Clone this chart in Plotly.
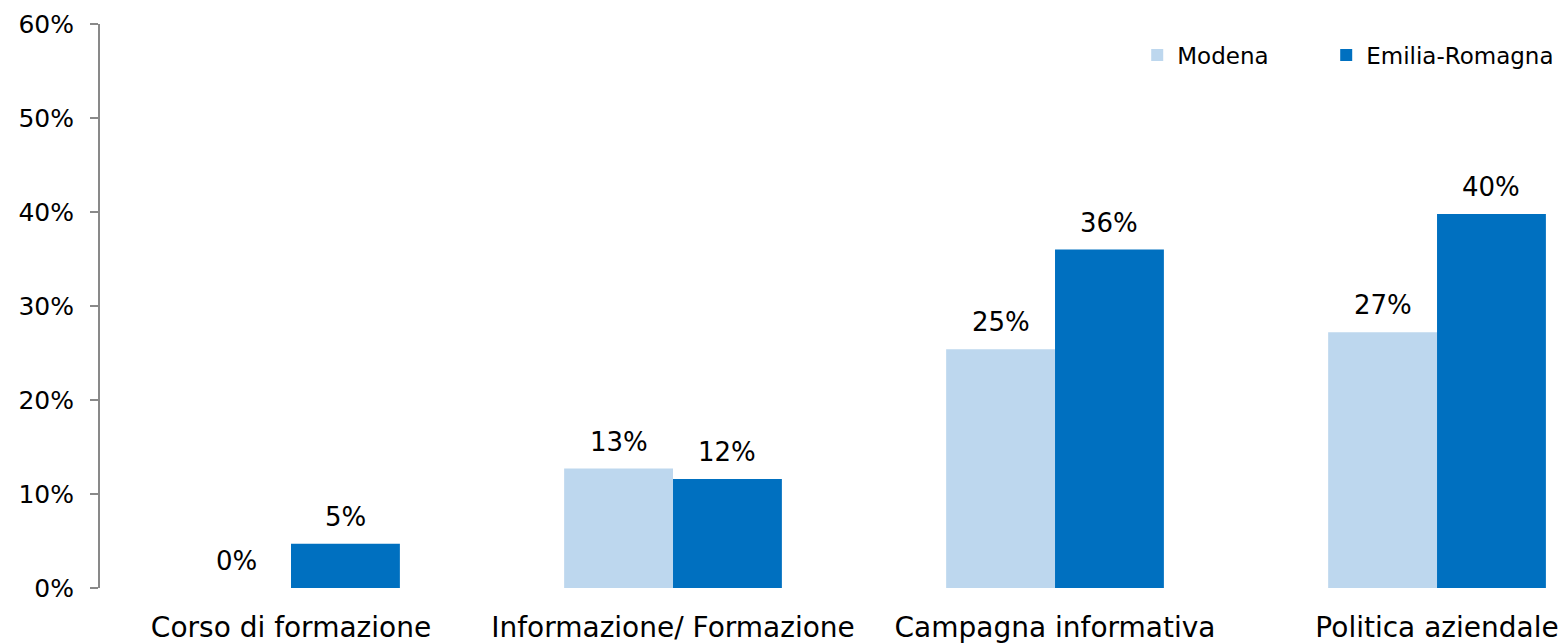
import plotly.graph_objects as go

categories = ["Corso di formazione", "Informazione/ Formazione", "Campagna informativa", "Politica aziendale"]
modena = [0.0, 0.127, 0.254, 0.272]
emilia_romagna = [0.047, 0.116, 0.36, 0.398]
y_ticks = [0, 0.1, 0.2, 0.3, 0.4, 0.5, 0.6]

FONT = "'DejaVu Sans', sans-serif"
BARGAP = 0.43
series = [("Modena", modena, "#BDD7EE", "legend"),
          ("Emilia-Romagna", emilia_romagna, "#0070C0", "legend2")]

fig = go.Figure()
for name, vals, color, leg in series:
    fig.add_trace(go.Bar(
        x=categories, y=vals, name=name, legend=leg,
        marker=dict(color=color, line=dict(width=0)),
    ))

# data labels placed above each bar
bar_w = (1 - BARGAP) / len(series)
for k, (name, vals, color, leg) in enumerate(series):
    off = (k - (len(series) - 1) / 2) * bar_w
    for i, v in enumerate(vals):
        fig.add_annotation(
            x=i + off, y=v, text=f"{round(v * 100):.0f}%", showarrow=False,
            xanchor="center", yanchor="bottom", yshift=10,
            font=dict(size=26, family=FONT, color="#000000"),
        )

fig.update_layout(
    width=1565, height=643,
    margin=dict(l=100, r=0, t=24, b=55, autoexpand=False),
    paper_bgcolor="white", plot_bgcolor="white",
    barmode="group", bargap=BARGAP, bargroupgap=0,
    font=dict(family=FONT, size=25, color="#000000"),
    showlegend=True,
    legend=dict(orientation="h", x=0.708, xanchor="left", y=0.945, yanchor="middle",
                font=dict(size=23, family=FONT), bgcolor="rgba(0,0,0,0)"),
    legend2=dict(orientation="h", x=0.837, xanchor="left", y=0.945, yanchor="middle",
                 font=dict(size=23, family=FONT), bgcolor="rgba(0,0,0,0)"),
)
fig.update_xaxes(
    type="category", range=[-0.5, 3.335], showline=False, showgrid=False,
    ticks="", tickfont=dict(size=28, family=FONT), ticklabelstandoff=20, automargin=False,
)
fig.update_yaxes(
    range=[0, 0.6], tickvals=y_ticks, tickformat=".0%",
    showline=True, linecolor="#898989", linewidth=2,
    ticks="outside", ticklen=8, tickcolor="#898989", tickwidth=2,
    showgrid=False, zeroline=False, tickfont=dict(size=25, family=FONT),
    ticklabelstandoff=11, automargin=False,
)

fig.write_html("out.html", config={"displayModeBar": False},
               post_script="document.body.style.margin='0';")
